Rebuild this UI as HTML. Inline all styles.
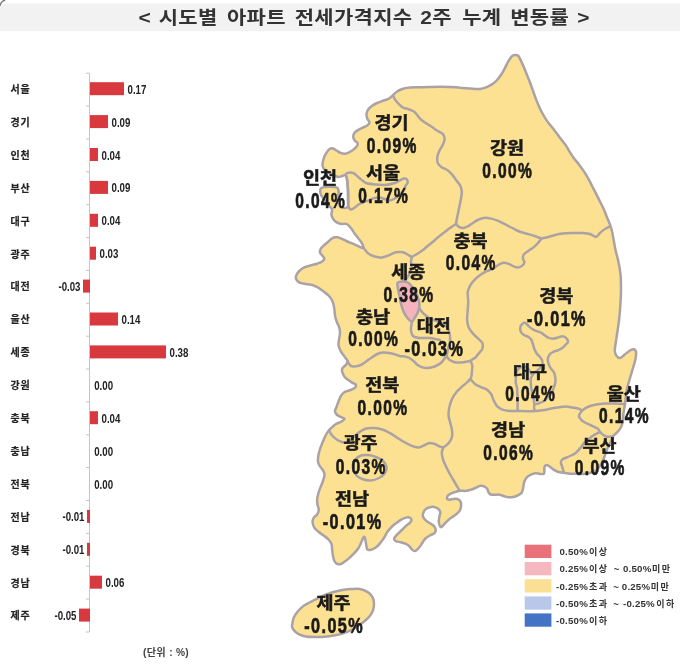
<!DOCTYPE html>
<html lang="ko"><head><meta charset="utf-8"><title>시도별 아파트 전세가격지수 2주 누계 변동률</title>
<style>html,body{margin:0;padding:0;background:#fff}svg{display:block}</style></head>
<body>
<svg width="680" height="672" viewBox="0 0 680 672">
<rect x="0" y="0" width="680" height="672" fill="#fff"/>
<path d="M-1,31.2 V9 Q0,3.5 6,3.5 H682 V31.2 Z" fill="#f2f2f2"/>
<path d="M0,5.8 Q0.8,1.2 5.2,0" fill="none" stroke="#777" stroke-width="1.4"/>
<text transform="scale(1.14,1)" y="24.4" font-family="'Liberation Sans','Noto Sans CJK KR',sans-serif" font-weight="bold" font-size="18.4" letter-spacing="0.3" fill="#333"><tspan x="121.58">&lt;</tspan> <tspan x="139.21">시도별</tspan> <tspan x="199.04">아파트</tspan> <tspan x="258.51">전세가격지수</tspan> <tspan x="368.60">2주</tspan> <tspan x="405.44">누계</tspan> <tspan x="447.54">변동률</tspan> <tspan x="506.32">&gt;</tspan></text>
<g stroke="#c4c4c4" stroke-width="1" fill="none">
<line x1="89.5" y1="73.2" x2="89.5" y2="632.0"/>
<line x1="86.0" y1="73.2" x2="89.5" y2="73.2"/>
<line x1="86.0" y1="106.1" x2="89.5" y2="106.1"/>
<line x1="86.0" y1="138.9" x2="89.5" y2="138.9"/>
<line x1="86.0" y1="171.8" x2="89.5" y2="171.8"/>
<line x1="86.0" y1="204.7" x2="89.5" y2="204.7"/>
<line x1="86.0" y1="237.6" x2="89.5" y2="237.6"/>
<line x1="86.0" y1="270.4" x2="89.5" y2="270.4"/>
<line x1="86.0" y1="303.3" x2="89.5" y2="303.3"/>
<line x1="86.0" y1="336.2" x2="89.5" y2="336.2"/>
<line x1="86.0" y1="369.0" x2="89.5" y2="369.0"/>
<line x1="86.0" y1="401.9" x2="89.5" y2="401.9"/>
<line x1="86.0" y1="434.8" x2="89.5" y2="434.8"/>
<line x1="86.0" y1="467.6" x2="89.5" y2="467.6"/>
<line x1="86.0" y1="500.5" x2="89.5" y2="500.5"/>
<line x1="86.0" y1="533.4" x2="89.5" y2="533.4"/>
<line x1="86.0" y1="566.2" x2="89.5" y2="566.2"/>
<line x1="86.0" y1="599.1" x2="89.5" y2="599.1"/>
<line x1="86.0" y1="632.0" x2="89.5" y2="632.0"/>
</g>
<rect x="90.0" y="82.2" width="34.0" height="13" fill="#d8393e"/>
<text x="10.5" y="93.0" font-family="'Liberation Sans','Noto Sans CJK KR',sans-serif" font-weight="bold" font-size="10" fill="#222" stroke="#222" stroke-width="0.2" letter-spacing="0.7">서울</text>
<text transform="translate(127.5,93.7) scale(0.77,1)" font-family="'Liberation Sans',sans-serif" font-weight="bold" font-size="12.6" fill="#222">0.17</text>
<rect x="90.0" y="115.1" width="18.0" height="13" fill="#d8393e"/>
<text x="10.5" y="125.9" font-family="'Liberation Sans','Noto Sans CJK KR',sans-serif" font-weight="bold" font-size="10" fill="#222" stroke="#222" stroke-width="0.2" letter-spacing="0.7">경기</text>
<text transform="translate(111.5,126.6) scale(0.77,1)" font-family="'Liberation Sans',sans-serif" font-weight="bold" font-size="12.6" fill="#222">0.09</text>
<rect x="90.0" y="148.0" width="8.0" height="13" fill="#d8393e"/>
<text x="10.5" y="158.8" font-family="'Liberation Sans','Noto Sans CJK KR',sans-serif" font-weight="bold" font-size="10" fill="#222" stroke="#222" stroke-width="0.2" letter-spacing="0.7">인천</text>
<text transform="translate(101.5,159.5) scale(0.77,1)" font-family="'Liberation Sans',sans-serif" font-weight="bold" font-size="12.6" fill="#222">0.04</text>
<rect x="90.0" y="180.9" width="18.0" height="13" fill="#d8393e"/>
<text x="10.5" y="191.7" font-family="'Liberation Sans','Noto Sans CJK KR',sans-serif" font-weight="bold" font-size="10" fill="#222" stroke="#222" stroke-width="0.2" letter-spacing="0.7">부산</text>
<text transform="translate(111.5,192.4) scale(0.77,1)" font-family="'Liberation Sans',sans-serif" font-weight="bold" font-size="12.6" fill="#222">0.09</text>
<rect x="90.0" y="213.8" width="8.0" height="13" fill="#d8393e"/>
<text x="10.5" y="224.6" font-family="'Liberation Sans','Noto Sans CJK KR',sans-serif" font-weight="bold" font-size="10" fill="#222" stroke="#222" stroke-width="0.2" letter-spacing="0.7">대구</text>
<text transform="translate(101.5,225.3) scale(0.77,1)" font-family="'Liberation Sans',sans-serif" font-weight="bold" font-size="12.6" fill="#222">0.04</text>
<rect x="90.0" y="246.7" width="6.0" height="13" fill="#d8393e"/>
<text x="10.5" y="257.5" font-family="'Liberation Sans','Noto Sans CJK KR',sans-serif" font-weight="bold" font-size="10" fill="#222" stroke="#222" stroke-width="0.2" letter-spacing="0.7">광주</text>
<text transform="translate(99.5,258.2) scale(0.77,1)" font-family="'Liberation Sans',sans-serif" font-weight="bold" font-size="12.6" fill="#222">0.03</text>
<rect x="83.0" y="279.6" width="7.0" height="13" fill="#d8393e"/>
<text x="10.5" y="290.4" font-family="'Liberation Sans','Noto Sans CJK KR',sans-serif" font-weight="bold" font-size="10" fill="#222" stroke="#222" stroke-width="0.2" letter-spacing="0.7">대전</text>
<text transform="translate(80.5,291.1) scale(0.77,1)" text-anchor="end" font-family="'Liberation Sans',sans-serif" font-weight="bold" font-size="12.6" fill="#222">-0.03</text>
<rect x="90.0" y="312.5" width="28.0" height="13" fill="#d8393e"/>
<text x="10.5" y="323.3" font-family="'Liberation Sans','Noto Sans CJK KR',sans-serif" font-weight="bold" font-size="10" fill="#222" stroke="#222" stroke-width="0.2" letter-spacing="0.7">울산</text>
<text transform="translate(121.5,324.0) scale(0.77,1)" font-family="'Liberation Sans',sans-serif" font-weight="bold" font-size="12.6" fill="#222">0.14</text>
<rect x="90.0" y="345.4" width="76.0" height="13" fill="#d8393e"/>
<text x="10.5" y="356.2" font-family="'Liberation Sans','Noto Sans CJK KR',sans-serif" font-weight="bold" font-size="10" fill="#222" stroke="#222" stroke-width="0.2" letter-spacing="0.7">세종</text>
<text transform="translate(169.5,356.9) scale(0.77,1)" font-family="'Liberation Sans',sans-serif" font-weight="bold" font-size="12.6" fill="#222">0.38</text>
<text x="10.5" y="389.1" font-family="'Liberation Sans','Noto Sans CJK KR',sans-serif" font-weight="bold" font-size="10" fill="#222" stroke="#222" stroke-width="0.2" letter-spacing="0.7">강원</text>
<text transform="translate(94.2,389.8) scale(0.77,1)" font-family="'Liberation Sans',sans-serif" font-weight="bold" font-size="12.6" fill="#222">0.00</text>
<rect x="90.0" y="411.2" width="8.0" height="13" fill="#d8393e"/>
<text x="10.5" y="422.0" font-family="'Liberation Sans','Noto Sans CJK KR',sans-serif" font-weight="bold" font-size="10" fill="#222" stroke="#222" stroke-width="0.2" letter-spacing="0.7">충북</text>
<text transform="translate(101.5,422.7) scale(0.77,1)" font-family="'Liberation Sans',sans-serif" font-weight="bold" font-size="12.6" fill="#222">0.04</text>
<text x="10.5" y="454.9" font-family="'Liberation Sans','Noto Sans CJK KR',sans-serif" font-weight="bold" font-size="10" fill="#222" stroke="#222" stroke-width="0.2" letter-spacing="0.7">충남</text>
<text transform="translate(94.2,455.6) scale(0.77,1)" font-family="'Liberation Sans',sans-serif" font-weight="bold" font-size="12.6" fill="#222">0.00</text>
<text x="10.5" y="487.8" font-family="'Liberation Sans','Noto Sans CJK KR',sans-serif" font-weight="bold" font-size="10" fill="#222" stroke="#222" stroke-width="0.2" letter-spacing="0.7">전북</text>
<text transform="translate(94.2,488.5) scale(0.77,1)" font-family="'Liberation Sans',sans-serif" font-weight="bold" font-size="12.6" fill="#222">0.00</text>
<rect x="87.0" y="509.9" width="3.0" height="13" fill="#d8393e"/>
<text x="10.5" y="520.7" font-family="'Liberation Sans','Noto Sans CJK KR',sans-serif" font-weight="bold" font-size="10" fill="#222" stroke="#222" stroke-width="0.2" letter-spacing="0.7">전남</text>
<text transform="translate(84.5,521.4) scale(0.77,1)" text-anchor="end" font-family="'Liberation Sans',sans-serif" font-weight="bold" font-size="12.6" fill="#222">-0.01</text>
<rect x="87.0" y="542.8" width="3.0" height="13" fill="#d8393e"/>
<text x="10.5" y="553.6" font-family="'Liberation Sans','Noto Sans CJK KR',sans-serif" font-weight="bold" font-size="10" fill="#222" stroke="#222" stroke-width="0.2" letter-spacing="0.7">경북</text>
<text transform="translate(84.5,554.3) scale(0.77,1)" text-anchor="end" font-family="'Liberation Sans',sans-serif" font-weight="bold" font-size="12.6" fill="#222">-0.01</text>
<rect x="90.0" y="575.7" width="12.0" height="13" fill="#d8393e"/>
<text x="10.5" y="586.5" font-family="'Liberation Sans','Noto Sans CJK KR',sans-serif" font-weight="bold" font-size="10" fill="#222" stroke="#222" stroke-width="0.2" letter-spacing="0.7">경남</text>
<text transform="translate(105.5,587.2) scale(0.77,1)" font-family="'Liberation Sans',sans-serif" font-weight="bold" font-size="12.6" fill="#222">0.06</text>
<rect x="79.0" y="608.6" width="11.0" height="13" fill="#d8393e"/>
<text x="10.5" y="619.4" font-family="'Liberation Sans','Noto Sans CJK KR',sans-serif" font-weight="bold" font-size="10" fill="#222" stroke="#222" stroke-width="0.2" letter-spacing="0.7">제주</text>
<text transform="translate(76.5,620.1) scale(0.77,1)" text-anchor="end" font-family="'Liberation Sans',sans-serif" font-weight="bold" font-size="12.6" fill="#222">-0.05</text>
<text x="166" y="656.2" text-anchor="middle" font-family="'Liberation Sans','Noto Sans CJK KR',sans-serif" font-weight="bold" font-size="10.2" fill="#444" letter-spacing="0.3">(단위 : %)</text>
<g stroke="#aaa2a5" stroke-width="2.5" stroke-linejoin="round" stroke-linecap="round">
<path d="M393.0,95.3C394.2,94.2 394.8,93.0 396.4,92.0C397.9,91.0 400.1,89.8 402.3,89.0C404.5,88.2 407.1,87.8 409.8,87.5C412.5,87.2 415.5,87.3 418.7,87.2C421.9,87.1 425.5,87.2 429.0,87.1C432.5,87.0 436.0,86.8 439.5,86.8C443.0,86.8 446.5,86.9 450.0,87.1C453.5,87.3 456.9,87.5 460.4,87.8C463.9,88.0 467.5,88.4 470.8,88.6C474.1,88.8 477.5,89.1 480.0,88.9C482.5,88.7 484.0,88.2 486.0,87.4C488.0,86.7 490.0,85.6 491.9,84.4C493.8,83.2 495.5,81.7 497.1,80.0C498.7,78.3 500.2,76.1 501.6,74.0C503.0,71.9 504.2,69.4 505.3,67.3C506.4,65.2 507.2,63.2 508.3,61.4C509.4,59.6 510.7,57.5 511.8,56.4C512.9,55.3 513.9,55.1 515.0,55.0C516.1,54.9 517.2,54.9 518.2,55.8C519.2,56.7 520.0,58.7 520.9,60.6C521.8,62.5 522.9,64.9 523.9,67.3C524.9,69.7 525.9,72.3 526.9,74.8C527.9,77.3 528.9,79.6 529.9,82.2C530.9,84.8 531.8,87.7 532.8,90.4C533.8,93.1 534.8,96.0 535.8,98.6C536.8,101.2 537.7,103.5 538.8,106.0C539.9,108.5 541.1,111.0 542.5,113.5C543.9,116.0 545.4,118.6 547.0,120.9C548.6,123.2 550.5,125.4 552.2,127.6C553.9,129.8 555.8,132.2 557.4,134.3C559.0,136.4 560.4,138.4 561.8,140.2C563.2,142.0 564.7,143.7 565.6,145.0C566.5,146.3 566.1,145.9 567.4,148.0C568.7,150.1 571.4,154.6 573.4,157.4C575.4,160.2 577.4,162.4 579.3,164.9C581.2,167.4 583.0,169.8 584.6,172.3C586.2,174.8 587.6,177.3 589.0,179.8C590.4,182.3 591.5,184.7 592.7,187.2C594.0,189.7 595.2,192.1 596.5,194.6C597.8,197.1 599.0,199.5 600.2,202.0C601.4,204.5 602.8,207.0 603.9,209.5C605.0,212.0 605.9,214.5 606.9,217.0C607.9,219.5 609.0,221.9 609.9,224.4C610.8,226.9 611.5,229.1 612.1,231.8C612.8,234.5 613.2,237.8 613.8,240.8C614.4,243.8 614.7,246.3 615.5,250.0C616.3,253.7 617.9,258.8 618.7,263.0C619.6,267.2 620.2,270.9 620.6,275.5C621.0,280.1 621.0,285.5 621.0,290.5C621.0,295.5 620.6,300.5 620.3,305.5C620.0,310.5 619.5,315.9 619.0,320.5C618.5,325.1 617.8,329.2 617.2,333.0C616.7,336.8 616.1,340.1 615.7,343.0C615.3,345.9 614.7,348.4 614.8,350.5C614.9,352.6 615.4,354.2 616.3,355.5C617.2,356.8 618.5,358.2 620.0,358.0C621.5,357.8 623.3,355.6 625.0,354.3C626.7,353.1 628.5,351.3 630.0,350.5C631.5,349.7 633.0,349.1 634.0,349.3C635.0,349.6 635.8,350.3 636.0,352.0C636.2,353.7 635.9,357.0 635.4,359.5C634.9,362.0 634.1,364.2 633.3,367.0C632.5,369.8 631.5,373.0 630.6,376.0C629.7,379.0 628.7,382.3 628.0,385.0C627.3,387.7 626.9,388.8 626.4,392.0C625.9,395.2 625.5,400.5 625.0,404.0C624.5,407.5 623.9,410.0 623.5,413.0C623.1,416.0 623.2,419.5 622.7,422.0C622.2,424.5 621.5,426.2 620.5,428.0C619.5,429.8 618.0,431.3 616.8,432.6C615.6,433.9 614.3,434.4 613.3,435.9C612.3,437.4 611.7,439.6 610.8,441.5C609.9,443.4 608.7,445.5 607.8,447.5C606.9,449.5 606.3,451.5 605.6,453.5C604.9,455.5 604.3,457.4 603.4,459.4C602.5,461.4 601.5,463.7 600.4,465.4C599.3,467.1 598.3,468.6 596.7,469.8C595.1,471.0 592.9,472.1 590.7,472.8C588.5,473.5 585.8,473.8 583.3,474.0C580.8,474.2 578.0,473.8 575.8,473.8C573.6,473.8 571.7,473.9 569.9,473.8C568.1,473.7 566.6,473.2 565.2,473.0C563.8,472.8 562.7,472.8 561.5,472.6C560.3,472.4 559.2,472.2 557.8,471.7C556.4,471.2 554.7,470.3 553.3,469.4C551.9,468.5 550.7,467.2 549.6,466.5C548.5,465.8 547.5,464.9 546.6,465.0C545.7,465.1 544.8,466.2 544.4,467.2C544.0,468.2 544.5,469.8 544.4,470.9C544.3,472.0 544.5,473.4 543.7,473.9C543.0,474.4 541.3,474.0 539.9,473.9C538.5,473.8 537.0,473.1 535.5,473.2C534.0,473.3 532.4,474.0 531.0,474.6C529.6,475.2 528.3,475.9 527.3,476.9C526.3,477.9 525.4,479.2 524.8,480.6C524.2,482.0 523.9,483.5 523.6,485.0C523.3,486.5 523.2,488.1 522.8,489.5C522.4,490.9 522.2,492.2 521.3,493.2C520.4,494.2 519.0,494.9 517.6,495.5C516.2,496.1 514.7,496.7 513.2,497.0C511.7,497.3 510.2,497.4 508.7,497.3C507.2,497.2 505.7,496.6 504.2,496.2C502.7,495.8 501.3,494.9 499.8,494.7C498.3,494.4 496.8,494.7 495.3,494.7C493.8,494.7 491.9,495.1 490.8,494.7C489.7,494.3 489.2,493.5 488.6,492.5C488.0,491.5 487.9,489.8 487.1,488.8C486.4,487.8 485.2,486.8 484.1,486.3C483.0,485.8 481.6,485.6 480.4,485.8C479.2,486.0 478.0,486.7 476.7,487.3C475.4,487.9 474.0,488.7 472.3,489.3C470.6,489.9 468.3,490.6 466.3,490.8C464.3,491.1 462.4,490.6 460.4,490.8C458.4,491.1 456.3,491.7 454.4,492.3C452.5,492.9 450.4,493.7 449.2,494.6C448.0,495.5 447.1,496.6 447.0,497.5C446.9,498.4 447.5,499.6 448.5,499.8C449.5,500.1 451.4,499.1 452.9,499.0C454.4,498.9 456.1,498.6 457.4,499.0C458.6,499.4 459.8,500.2 460.4,501.3C461.0,502.4 461.2,504.1 461.1,505.7C461.0,507.3 460.5,509.4 459.6,510.9C458.7,512.4 457.3,513.5 455.9,514.6C454.5,515.7 452.8,516.6 451.4,517.6C450.0,518.6 448.9,519.5 447.7,520.6C446.5,521.7 445.1,523.2 444.0,524.3C442.9,525.4 441.8,527.2 441.0,527.3C440.2,527.4 439.9,526.1 439.5,525.1C439.1,524.1 438.8,522.8 438.8,521.3C438.8,519.8 439.2,517.7 439.5,516.1C439.8,514.5 440.6,512.9 440.3,511.7C440.1,510.5 439.0,509.5 438.0,508.7C437.0,507.9 435.7,507.1 434.3,506.9C432.9,506.6 431.4,506.8 429.9,507.2C428.4,507.6 426.5,508.4 425.4,509.4C424.3,510.4 423.6,512.0 423.2,513.2C422.8,514.5 422.7,515.7 423.2,516.9C423.7,518.1 424.9,519.5 426.1,520.6C427.3,521.7 429.2,522.6 430.6,523.6C432.0,524.6 433.4,525.4 434.3,526.5C435.2,527.6 435.8,529.2 435.8,530.3C435.8,531.4 435.3,532.3 434.3,533.2C433.3,534.1 431.4,534.6 429.9,535.5C428.4,536.4 426.5,537.5 425.4,538.5C424.3,539.5 423.9,540.3 423.2,541.4C422.4,542.5 421.8,543.9 420.9,545.1C420.0,546.4 418.9,547.9 417.9,548.9C416.9,549.9 416.0,551.0 415.0,551.1C414.0,551.2 413.0,550.5 412.0,549.6C411.0,548.7 410.1,546.9 409.0,545.9C407.9,544.9 406.7,544.3 405.3,543.7C403.9,543.1 402.3,542.6 400.8,542.2C399.3,541.8 397.5,541.9 396.4,541.4C395.3,540.9 394.2,540.1 394.1,539.2C394.0,538.3 394.9,537.2 395.6,536.2C396.4,535.2 397.5,534.3 398.6,533.2C399.7,532.1 401.1,530.7 402.3,529.5C403.5,528.3 404.8,526.9 406.0,525.8C407.2,524.7 408.9,523.8 409.8,522.8C410.7,521.8 411.5,520.8 411.5,519.9C411.5,519.0 410.7,518.0 409.8,517.6C408.9,517.2 407.5,517.2 406.0,517.6C404.5,518.0 402.5,518.9 400.8,519.9C399.1,520.9 397.2,522.4 395.6,523.6C394.0,524.8 392.6,525.9 391.2,527.3C389.8,528.7 388.5,530.2 387.4,531.8C386.3,533.4 385.5,535.4 384.5,537.0C383.5,538.6 382.4,540.1 381.5,541.4C380.6,542.6 380.0,543.5 379.0,544.5C378.0,545.5 376.9,546.8 375.4,547.7C373.9,548.6 371.5,549.8 370.1,550.0C368.7,550.2 367.9,550.2 367.2,549.2C366.5,548.2 366.5,545.9 366.1,544.0C365.7,542.1 365.4,539.1 365.0,538.0C364.6,536.9 364.1,536.5 363.5,537.3C362.9,538.0 362.1,540.6 361.2,542.5C360.3,544.4 359.3,546.8 358.2,548.5C357.1,550.2 355.9,551.4 354.5,552.9C353.1,554.4 351.5,556.0 350.0,557.4C348.5,558.8 347.1,559.9 345.6,561.0C344.1,562.1 342.5,563.5 341.1,564.0C339.7,564.5 338.5,564.5 337.4,564.0C336.3,563.5 335.1,562.4 334.4,561.0C333.7,559.6 333.4,557.7 333.0,555.9C332.6,554.1 332.4,552.0 332.2,550.0C331.9,548.0 332.1,545.8 331.5,544.0C330.9,542.2 329.8,540.9 328.5,539.5C327.2,538.1 325.6,537.0 324.0,535.8C322.4,534.5 320.4,533.4 318.8,532.0C317.2,530.6 315.3,529.2 314.3,527.6C313.3,526.0 312.7,524.0 312.6,522.4C312.5,520.8 312.8,519.4 313.6,518.0C314.4,516.6 316.4,515.6 317.3,514.2C318.2,512.8 318.8,511.5 318.8,509.8C318.8,508.1 317.6,505.8 317.3,503.8C317.1,501.8 317.1,499.9 317.3,497.9C317.6,495.9 318.2,493.9 318.8,491.9C319.4,489.9 320.2,488.0 321.0,486.0C321.8,484.0 322.7,481.9 323.3,480.0C323.9,478.1 324.6,476.0 324.5,474.3C324.4,472.6 323.5,471.3 322.7,469.9C321.9,468.5 320.6,467.4 319.8,466.0C319.0,464.6 318.2,463.4 318.0,461.7C317.8,460.0 318.0,457.7 318.3,455.7C318.6,453.7 319.2,451.8 319.8,449.8C320.4,447.8 321.2,445.8 322.0,443.8C322.8,441.8 323.6,439.8 324.5,437.9C325.4,436.0 326.1,434.2 327.2,432.6C328.3,431.0 329.5,429.6 331.0,428.2C332.5,426.8 334.3,425.1 336.0,424.0C337.7,422.9 339.6,422.7 341.0,421.8C342.4,420.9 344.5,419.6 344.6,418.9C344.7,418.2 342.9,418.0 341.7,417.4C340.5,416.8 338.3,416.0 337.2,415.0C336.1,414.0 335.1,412.7 335.0,411.4C334.9,410.1 335.9,408.7 336.5,407.0C337.1,405.3 337.9,402.9 338.7,401.0C339.4,399.1 340.0,397.3 341.0,395.8C342.0,394.3 343.0,393.0 344.6,392.0C346.2,391.0 348.9,390.7 350.6,390.0C352.3,389.3 354.1,388.5 355.0,387.6C355.9,386.7 356.2,385.4 355.8,384.6C355.4,383.8 354.0,383.8 352.8,383.0C351.6,382.2 349.8,381.1 348.4,380.0C347.0,378.9 345.5,378.0 344.5,376.7C343.5,375.4 342.7,373.6 342.3,372.2C341.9,370.8 341.7,369.7 342.3,368.5C342.9,367.3 345.1,366.1 346.0,364.8C346.9,363.6 347.8,362.4 347.5,361.0C347.2,359.6 345.6,358.2 344.5,356.6C343.4,355.0 341.8,353.3 340.8,351.4C339.8,349.5 338.9,347.4 338.6,345.4C338.3,343.4 338.8,341.5 339.0,339.5C339.2,337.5 339.9,335.5 340.0,333.5C340.1,331.5 339.8,329.4 339.3,327.6C338.9,325.9 338.0,324.7 337.3,323.0C336.6,321.3 335.8,319.3 335.3,317.2C334.8,315.1 334.8,312.6 334.5,310.5C334.2,308.4 333.9,306.2 333.5,304.5C333.1,302.8 332.7,301.5 331.9,300.0C331.1,298.5 329.8,296.9 328.5,295.5C327.2,294.1 325.6,293.0 324.0,291.8C322.4,290.6 320.7,289.2 319.2,288.2C317.7,287.2 316.3,286.6 314.8,286.0C313.3,285.4 312.1,284.9 310.3,284.5C308.6,284.1 306.2,284.2 304.3,283.8C302.4,283.4 300.5,283.1 299.1,282.3C297.8,281.6 296.7,280.4 296.2,279.3C295.7,278.2 295.7,277.0 296.2,275.6C296.7,274.2 297.8,272.5 299.1,271.1C300.5,269.7 302.4,268.3 304.3,267.4C306.2,266.5 308.2,266.1 310.3,265.5C312.4,264.9 315.0,264.4 317.0,263.7C319.0,263.0 321.0,262.4 322.2,261.5C323.4,260.6 324.4,259.5 324.4,258.5C324.4,257.5 322.9,256.5 322.2,255.5C321.5,254.5 320.2,253.6 320.0,252.5C319.8,251.4 320.0,250.1 320.7,248.8C321.4,247.6 323.1,246.2 324.4,245.0C325.7,243.8 327.3,242.5 328.5,241.5C329.7,240.5 330.5,239.5 331.5,238.8C332.5,238.1 333.5,237.6 334.5,237.3C335.5,237.1 336.2,237.1 337.4,237.3C338.6,237.6 340.4,238.2 341.9,238.8C343.4,239.4 344.9,240.3 346.4,241.0C347.9,241.7 349.3,242.3 350.8,242.9C352.3,243.5 353.8,244.1 355.3,244.8C356.8,245.5 358.4,246.5 359.8,247.0C361.2,247.5 363.0,248.3 363.5,247.9C364.0,247.5 363.2,246.0 362.7,244.8C362.2,243.7 361.4,242.2 360.5,241.0C359.6,239.8 358.5,238.5 357.5,237.3C356.5,236.1 355.5,234.8 354.6,233.6C353.7,232.4 353.2,231.1 352.3,229.9C351.4,228.7 350.3,227.2 349.3,226.2C348.3,225.2 347.8,224.3 346.4,223.9C345.0,223.5 342.8,224.2 341.2,223.9C339.6,223.7 338.1,223.3 336.7,222.4C335.3,221.5 333.9,220.0 333.0,218.7C332.1,217.4 331.6,216.0 331.4,214.5C331.2,213.0 332.5,211.1 332.0,209.5C331.5,207.9 329.8,206.6 328.5,205.0C327.2,203.4 325.7,201.6 324.5,200.0C323.3,198.4 322.0,196.8 321.3,195.5C320.6,194.2 320.4,193.2 320.3,192.0C320.2,190.8 320.2,189.4 320.8,188.6C321.4,187.8 322.4,187.4 323.8,187.1C325.2,186.8 327.3,186.7 329.0,186.7C330.7,186.7 332.6,186.8 334.0,187.0C335.4,187.2 336.7,187.3 337.5,188.0C338.3,188.7 338.4,189.7 338.6,191.0C338.8,192.3 338.5,194.2 338.5,196.0C338.5,197.8 338.2,200.3 338.5,202.0C338.8,203.7 339.1,205.3 340.0,206.3C340.9,207.3 342.8,207.8 344.0,208.0C345.2,208.2 346.6,207.8 347.3,207.3C348.0,206.8 348.2,206.9 348.3,205.0C348.4,203.1 348.2,198.5 348.1,196.0C348.1,193.5 348.1,191.9 348.0,190.0C347.9,188.1 347.7,186.3 347.5,184.4C347.3,182.5 347.3,180.0 346.9,178.5C346.5,177.0 346.1,175.6 345.2,175.2C344.3,174.8 342.6,176.0 341.4,176.3C340.2,176.6 339.1,177.2 337.9,177.0C336.7,176.8 335.9,175.9 334.4,175.2C332.9,174.5 330.6,173.5 329.0,172.6C327.4,171.7 325.6,170.6 324.5,169.5C323.4,168.4 322.9,167.2 322.6,166.0C322.3,164.8 322.6,163.4 322.8,162.0C323.1,160.6 323.5,158.9 324.1,157.4C324.7,155.9 325.5,154.3 326.4,152.9C327.3,151.5 328.2,149.9 329.3,149.2C330.4,148.5 331.8,148.2 333.0,148.5C334.2,148.8 335.6,150.0 336.8,150.7C338.1,151.4 339.1,152.4 340.5,152.9C341.9,153.4 343.5,153.8 345.0,153.7C346.5,153.6 347.9,152.9 349.4,152.2C350.9,151.4 352.6,150.2 353.9,149.2C355.1,148.2 356.3,147.2 356.9,146.2C357.5,145.2 358.0,144.2 357.6,143.2C357.2,142.2 355.3,141.4 354.6,140.3C353.9,139.2 353.2,137.8 353.2,136.5C353.2,135.2 353.7,133.9 354.6,132.8C355.5,131.7 357.0,130.8 358.4,129.9C359.8,129.0 361.3,128.3 362.8,127.6C364.3,126.8 366.2,126.3 367.3,125.4C368.4,124.5 369.5,123.5 369.5,122.4C369.5,121.3 367.8,120.1 367.3,118.7C366.8,117.3 366.4,115.7 366.5,114.2C366.6,112.7 367.1,111.2 368.0,109.8C368.9,108.4 370.3,107.1 371.8,106.0C373.3,104.9 375.1,103.9 377.0,103.0C378.9,102.1 381.0,101.5 383.0,100.8C385.0,100.1 387.2,99.5 388.9,98.6C390.6,97.7 391.8,96.4 393.0,95.3Z" fill="#fde192"/>
<path d="M292.4,623.5C292.7,622.0 292.9,619.6 293.8,617.6C294.7,615.6 296.0,613.6 297.5,611.8C299.0,610.0 300.8,608.1 302.6,606.6C304.4,605.1 306.5,604.1 308.5,603.0C310.5,601.9 312.2,601.1 314.4,600.0C316.6,598.9 319.4,597.4 321.8,596.3C324.2,595.2 326.7,594.2 329.1,593.4C331.6,592.5 334.1,591.8 336.5,591.2C338.9,590.6 341.4,590.1 343.8,589.7C346.2,589.3 348.5,589.1 351.2,589.0C353.9,588.9 357.3,588.5 360.0,589.0C362.7,589.5 365.3,590.6 367.4,591.9C369.5,593.2 371.4,595.0 372.5,597.0C373.6,599.0 373.9,601.5 374.0,603.7C374.1,605.9 373.7,608.2 373.0,610.3C372.3,612.4 371.0,614.4 369.6,616.2C368.2,618.0 366.2,619.7 364.4,621.3C362.5,622.9 360.7,624.2 358.5,625.7C356.3,627.2 353.6,628.9 351.2,630.1C348.8,631.3 346.5,632.2 343.8,633.1C341.1,634.0 338.2,634.7 335.0,635.3C331.8,635.9 328.1,636.5 324.7,636.8C321.3,637.1 317.6,637.0 314.4,637.0C311.2,637.0 308.3,637.0 305.6,636.5C302.9,636.0 300.2,634.9 298.2,633.8C296.2,632.7 294.8,631.3 293.8,630.1C292.8,628.9 292.2,627.6 292.0,626.5C291.8,625.4 292.1,625.0 292.4,623.5Z" fill="#fde192"/>
</g>
<g stroke="#aaa2a5" stroke-width="2.5" fill="none" stroke-linejoin="round" stroke-linecap="round">
<path d="M393.0,95.3C393.3,96.0 394.0,98.0 394.9,99.4C395.8,100.8 397.2,102.5 398.6,103.9C400.0,105.3 401.4,106.7 403.0,107.6C404.6,108.5 406.6,108.5 408.3,109.1C410.1,109.7 412.0,110.3 413.5,111.3C415.0,112.3 416.0,113.6 417.2,115.0C418.4,116.4 419.4,118.1 420.9,119.5C422.4,120.9 424.2,122.0 426.1,123.2C428.0,124.5 430.4,125.8 432.1,127.0C433.8,128.2 434.8,129.2 436.5,130.3C438.2,131.4 441.0,132.4 442.4,133.7C443.8,135.0 444.5,136.5 444.6,138.2C444.7,139.9 444.1,142.0 443.2,144.1C442.3,146.2 440.4,148.6 439.4,150.8C438.4,153.0 437.4,155.4 437.2,157.5C437.0,159.6 437.2,161.9 438.0,163.5C438.8,165.1 440.1,166.1 441.7,167.2C443.3,168.3 445.9,169.0 447.6,170.2C449.3,171.4 450.6,172.9 452.1,174.6C453.6,176.3 455.1,178.7 456.5,180.6C457.9,182.5 459.4,183.9 460.3,185.8C461.2,187.7 461.7,189.7 461.8,191.8C461.9,193.9 461.4,196.2 461.0,198.5C460.6,200.8 460.0,203.4 459.5,205.9C459.0,208.4 458.5,211.0 458.0,213.3C457.5,215.6 457.0,217.7 456.7,219.5C456.4,221.3 456.1,223.2 456.0,224.0"/>
<path d="M456.0,224.0C456.6,224.5 458.1,226.5 459.4,227.2C460.6,227.9 462.0,228.2 463.5,228.0C465.0,227.8 466.6,227.0 468.2,226.2C469.8,225.4 471.4,224.0 473.0,223.0C474.6,222.0 475.8,220.8 477.6,220.0C479.4,219.2 481.7,218.1 484.0,217.9C486.3,217.7 488.8,218.1 491.2,218.6C493.6,219.1 495.8,219.9 498.2,220.9C500.6,221.9 503.0,223.2 505.3,224.4C507.6,225.6 509.9,226.8 512.3,228.0C514.6,229.2 516.8,230.5 519.4,231.5C522.0,232.5 525.6,233.3 528.2,234.1C530.9,234.9 533.1,235.5 535.3,236.2C537.5,236.9 540.5,238.1 541.5,238.5"/>
<path d="M541.5,238.5C542.7,238.2 546.2,237.6 548.5,237.0C550.8,236.4 552.7,235.6 555.0,235.0C557.3,234.4 559.6,233.8 562.5,233.5C565.4,233.2 569.2,233.1 572.5,233.0C575.8,232.9 579.6,232.8 582.5,233.0C585.4,233.2 587.8,233.4 590.0,234.0C592.2,234.6 594.3,237.0 596.0,236.8C597.7,236.6 598.5,234.3 600.0,233.0C601.5,231.7 603.3,230.1 605.0,229.0C606.7,227.9 609.4,226.7 610.3,226.2"/>
<path d="M541.5,238.5C540.9,239.2 539.3,241.5 538.0,243.0C536.7,244.5 535.1,246.1 533.5,247.4C531.9,248.7 529.8,249.7 528.2,250.9C526.6,252.1 524.7,253.1 523.8,254.4C522.9,255.7 522.9,257.5 523.0,258.8C523.1,260.1 524.6,261.2 524.4,262.4C524.2,263.6 523.1,265.0 522.0,265.9C520.9,266.8 519.1,267.6 517.6,267.6C516.1,267.7 514.7,266.8 513.2,266.2C511.7,265.6 510.4,264.4 508.8,263.8C507.2,263.2 505.3,262.5 503.5,262.7C501.7,262.9 499.9,264.0 498.2,265.0C496.4,266.0 494.9,267.5 493.0,268.5C491.1,269.5 488.9,270.2 486.8,271.2C484.7,272.2 482.5,273.4 480.6,274.7C478.7,276.0 476.8,277.6 475.3,279.1C473.8,280.6 472.5,282.1 471.5,283.5C470.5,284.9 469.9,286.0 469.3,287.5C468.7,289.0 467.9,290.2 467.7,292.5C467.5,294.8 468.2,298.4 468.2,301.4C468.2,304.4 467.9,307.4 467.7,310.4C467.5,313.4 467.0,316.5 467.1,319.3C467.2,322.1 467.6,324.9 468.6,327.3C469.6,329.7 471.4,331.7 473.0,333.6C474.6,335.5 476.8,337.3 478.4,338.9C480.0,340.5 481.9,341.8 482.5,343.4C483.1,345.0 482.8,347.3 482.3,348.8C481.8,350.3 480.6,351.1 479.5,352.5C478.4,353.9 476.9,356.1 475.5,357.5C474.1,358.9 471.5,359.4 471.0,360.8C470.5,362.2 472.1,364.0 472.3,365.6C472.5,367.2 472.1,368.7 472.0,370.3C471.9,371.9 471.8,373.6 471.6,375.0C471.4,376.4 470.8,378.3 470.6,379.0"/>
<path d="M456.0,224.0C455.4,224.4 453.7,225.5 452.5,226.3C451.3,227.1 450.3,227.7 448.8,228.8C447.3,229.9 445.3,231.6 443.5,233.0C441.7,234.4 439.9,235.7 438.0,237.3C436.1,238.9 433.7,241.1 432.0,242.5C430.3,243.9 429.2,244.7 427.6,246.0C426.0,247.3 424.1,249.2 422.3,250.5C420.5,251.8 418.8,252.9 417.0,254.0C415.2,255.1 412.7,256.5 411.8,257.0"/>
<path d="M411.8,257.0C411.3,256.7 410.5,256.1 409.0,255.3C407.5,254.5 405.2,252.8 403.0,252.3C400.8,251.8 398.3,251.8 395.9,252.3C393.5,252.8 391.1,254.4 388.8,255.3C386.5,256.2 384.2,257.4 381.8,257.6C379.4,257.8 376.9,257.1 374.7,256.5C372.5,255.8 370.2,254.7 368.7,253.7C367.2,252.7 366.6,251.7 365.7,250.7C364.8,249.7 363.9,248.4 363.5,247.9"/>
<path d="M411.8,257.0C411.7,257.8 411.1,260.0 411.0,261.5C410.9,263.0 411.6,264.2 411.4,266.0C411.2,267.8 410.7,270.0 410.0,272.0C409.3,274.0 408.2,276.4 407.0,278.0C405.8,279.6 403.7,281.1 403.0,281.7"/>
<path d="M347.6,361.0C347.9,361.6 348.7,363.6 349.5,364.5C350.3,365.4 350.8,366.3 352.5,366.5C354.2,366.7 357.3,366.2 359.5,365.5C361.7,364.8 363.5,363.3 365.5,362.0C367.5,360.7 369.4,359.0 371.4,357.7C373.4,356.4 375.4,354.9 377.4,354.0C379.4,353.1 381.3,352.8 383.3,352.6C385.3,352.4 387.2,352.7 389.3,353.0C391.4,353.3 393.8,354.0 395.6,354.5C397.4,355.0 398.5,355.9 400.0,356.2C401.5,356.5 403.1,356.1 404.7,356.4C406.3,356.7 407.8,357.1 409.4,358.0C410.9,358.9 412.6,360.3 414.0,361.5C415.4,362.7 416.2,364.0 417.6,365.0C419.0,366.0 420.6,366.9 422.4,367.4C424.2,367.9 426.3,368.1 428.2,368.0C430.1,367.9 432.2,367.4 434.0,366.8C435.8,366.2 437.4,365.3 438.8,364.4C440.2,363.5 441.4,362.5 442.4,361.5C443.4,360.5 444.0,359.2 444.7,358.3C445.4,357.4 445.6,356.1 446.4,356.3C447.2,356.5 448.1,358.8 449.4,359.7C450.7,360.6 452.2,361.5 454.0,362.0C455.8,362.5 458.0,362.6 460.0,362.6C462.0,362.6 464.2,362.1 466.0,361.8C467.8,361.5 470.2,361.0 471.0,360.8"/>
<path d="M470.6,379.0C471.3,379.8 473.4,382.7 475.0,384.0C476.6,385.3 478.4,385.9 480.3,386.8C482.2,387.7 484.7,388.2 486.5,389.4C488.3,390.6 489.7,392.0 490.9,393.8C492.1,395.6 492.5,397.9 493.5,400.0C494.5,402.1 495.5,404.6 497.0,406.2C498.5,407.8 500.2,408.9 502.3,409.7C504.4,410.5 506.8,410.8 509.4,411.0C512.0,411.2 515.3,411.0 518.2,411.0C521.1,411.0 524.0,411.2 527.0,411.2C530.0,411.2 532.9,411.2 535.9,411.0C538.9,410.8 542.4,410.4 544.7,410.0C547.1,409.6 547.9,409.2 550.0,408.8C552.1,408.4 554.8,407.9 557.5,407.5C560.2,407.1 563.5,406.5 566.0,406.5C568.5,406.5 570.4,407.1 572.5,407.5C574.6,407.9 577.2,408.3 578.8,408.8C580.4,409.3 581.5,410.2 582.0,410.5"/>
<path d="M470.6,379.0C470.0,379.6 468.5,381.1 467.0,382.4C465.5,383.7 463.6,385.2 461.8,386.8C460.1,388.4 458.1,390.0 456.5,392.0C454.9,394.0 453.2,396.5 452.0,399.0C450.8,401.5 450.0,404.3 449.4,407.0C448.8,409.7 448.4,412.3 448.5,415.0C448.6,417.7 449.7,420.5 450.3,423.0C450.9,425.5 451.7,427.7 452.0,430.0C452.3,432.3 452.6,434.8 452.0,437.0C451.4,439.2 450.0,441.4 448.5,443.2C447.0,445.0 444.1,446.9 443.2,447.6"/>
<path d="M443.2,447.6C443.0,448.5 441.8,450.9 441.8,453.0C441.8,455.1 442.5,457.8 443.2,460.0C443.9,462.2 444.9,464.1 445.9,466.2C446.9,468.3 447.6,469.9 449.0,472.5C450.4,475.1 452.7,478.9 454.5,482.0C456.3,485.1 458.9,489.3 459.8,490.8"/>
<path d="M443.2,447.6C442.6,447.4 440.9,446.9 439.4,446.3C437.9,445.7 435.8,444.3 434.0,443.8C432.2,443.3 430.6,442.9 428.8,443.2C427.1,443.5 425.3,444.9 423.5,445.6C421.7,446.3 420.2,447.4 418.2,447.4C416.1,447.4 413.6,446.5 411.2,445.6C408.8,444.7 406.4,443.3 404.0,442.0C401.6,440.7 399.3,439.1 397.0,437.6C394.7,436.1 392.3,434.5 390.0,433.2C387.7,431.9 385.7,430.6 383.0,429.7C380.3,428.8 376.9,428.1 374.0,428.0C371.1,427.9 367.9,428.0 365.3,428.8C362.7,429.6 360.4,431.4 358.2,433.0C356.0,434.6 353.9,437.0 352.0,438.5C350.1,440.0 348.5,441.4 347.0,442.0C345.5,442.6 344.1,442.5 342.8,442.3C341.5,442.1 340.4,441.5 339.0,440.8C337.6,440.1 335.9,439.0 334.6,437.9C333.3,436.8 331.9,435.2 331.0,434.0C330.1,432.8 329.3,431.0 329.0,430.4"/>
<path d="M582.0,410.5C582.9,409.9 585.3,407.9 587.5,407.0C589.7,406.1 592.1,405.4 595.0,404.8C597.9,404.2 601.7,403.7 605.0,403.5C608.3,403.3 611.7,403.4 615.0,403.5C618.3,403.6 623.2,403.9 624.8,404.0"/>
<path d="M582.0,410.5C581.5,411.4 578.9,414.2 579.0,416.0C579.1,417.8 580.7,419.5 582.5,421.0C584.3,422.5 587.5,423.6 590.0,424.8C592.5,426.1 595.8,427.3 597.5,428.5C599.2,429.7 598.6,430.7 600.0,432.0C601.4,433.3 603.8,435.8 606.0,436.5C608.2,437.2 611.8,436.3 613.0,436.3"/>
<path d="M600.0,432.0C598.8,432.7 595.0,434.3 592.5,436.0C590.0,437.7 587.1,439.9 585.0,442.0C582.9,444.1 581.7,446.6 580.0,448.5C578.3,450.4 576.7,452.2 575.0,453.5C573.3,454.8 571.4,455.3 570.0,456.0C568.6,456.7 567.9,457.0 566.7,457.5C565.5,458.0 564.0,458.2 563.0,459.0C562.0,459.8 560.9,460.6 560.8,462.0C560.7,463.4 561.8,465.5 562.3,467.2C562.8,468.9 563.5,471.5 563.8,472.4"/>
<path d="M419.0,308.0C419.8,309.0 422.0,312.2 424.0,314.0C426.0,315.8 428.5,317.7 431.0,319.0C433.5,320.3 436.5,320.8 439.0,322.0C441.5,323.2 444.2,324.2 446.0,326.0C447.8,327.8 448.8,330.5 449.5,333.0C450.2,335.5 450.2,338.3 450.0,341.0C449.8,343.7 448.6,346.4 448.0,349.0C447.4,351.6 446.7,355.1 446.4,356.3"/>
<path d="M412.0,321.5C411.8,322.9 410.8,327.6 411.0,330.0C411.2,332.4 411.5,334.7 413.0,336.0C414.5,337.3 417.2,337.7 420.0,338.0C422.8,338.3 426.7,337.7 430.0,338.0C433.3,338.3 438.3,339.7 440.0,340.0"/>
<path d="M534.4,410.5C534.4,409.6 533.6,406.2 534.4,405.0C535.2,403.8 537.4,404.0 539.0,403.3C540.6,402.6 542.6,402.0 544.1,401.0C545.6,400.0 546.6,398.7 547.8,397.4C549.0,396.1 550.5,394.6 551.5,393.0C552.5,391.4 553.2,389.4 553.8,387.7C554.4,385.9 555.0,384.2 555.3,382.5C555.5,380.8 555.5,379.1 555.3,377.3C555.0,375.6 554.5,373.5 553.8,372.0C553.0,370.5 551.7,369.8 550.8,368.4C549.9,367.0 549.1,365.4 548.6,363.9C548.1,362.4 547.7,360.9 547.8,359.4C547.9,357.9 548.4,356.2 549.3,355.0C550.2,353.8 551.6,352.8 553.0,352.0C554.4,351.2 556.0,351.1 557.5,350.5C559.0,349.9 560.8,349.2 562.0,348.3C563.2,347.4 564.0,346.3 565.0,345.3C566.0,344.3 567.5,343.3 567.9,342.3C568.3,341.3 567.9,340.3 567.2,339.3C566.5,338.3 564.9,336.8 563.5,336.4C562.1,336.0 560.6,336.7 559.0,337.1C557.4,337.5 555.5,338.5 553.8,338.6C552.1,338.7 550.2,338.5 548.6,337.9C547.0,337.3 545.4,335.8 544.1,334.9C542.9,334.0 542.3,333.2 541.1,332.6C539.9,332.0 538.2,331.8 536.7,331.2C535.2,330.6 533.6,329.9 532.2,329.0C530.8,328.1 529.6,327.0 528.5,326.0C527.4,325.0 526.5,323.4 525.5,323.0C524.5,322.6 523.4,323.0 522.5,323.7C521.6,324.4 520.5,326.0 520.3,327.4C520.0,328.8 520.4,330.7 521.0,332.0C521.6,333.3 522.8,334.2 524.0,335.0C525.2,335.8 527.2,336.2 528.5,337.0C529.8,337.8 530.8,338.8 531.5,340.0C532.2,341.2 532.5,343.0 533.0,344.5C533.5,346.0 533.8,347.5 534.4,349.0C535.0,350.5 535.8,352.2 536.7,353.5C537.6,354.8 538.7,355.4 539.6,356.5C540.5,357.6 541.4,358.8 541.9,360.0C542.4,361.2 543.1,362.5 542.6,364.0C542.1,365.5 540.4,367.5 539.0,369.0C537.6,370.5 535.3,371.5 534.0,373.0C532.7,374.5 531.5,375.8 531.0,378.0C530.5,380.2 530.8,383.7 531.0,386.0C531.2,388.3 531.6,389.8 532.0,392.0C532.4,394.2 533.2,396.8 533.6,399.0C534.0,401.2 534.3,404.0 534.4,405.0"/>
<path d="M531.5,374.0C530.8,372.9 528.8,368.7 527.0,367.5C525.2,366.3 522.8,366.2 521.0,367.0C519.2,367.8 517.4,370.0 516.5,372.0C515.6,374.0 515.9,377.2 515.8,379.0C515.7,380.8 515.6,381.5 515.8,383.0C516.0,384.5 516.7,385.2 517.0,388.0C517.3,390.8 517.5,396.2 517.6,400.0C517.7,403.8 517.6,408.8 517.6,410.5"/>
<path d="M345.6,174.6C345.6,173.7 345.8,173.6 346.6,173.3C347.4,173.0 349.1,172.6 350.3,172.6C351.5,172.6 352.9,172.8 354.0,173.3C355.1,173.9 356.0,175.0 357.0,175.9C358.0,176.8 358.9,177.6 360.0,178.5C361.1,179.4 362.6,180.7 363.7,181.5C364.8,182.3 364.7,182.8 366.6,183.3C368.5,183.8 371.9,184.2 375.0,184.5C378.1,184.8 381.7,185.2 385.0,185.0C388.3,184.8 392.6,183.7 395.0,183.0C397.4,182.3 397.9,181.4 399.4,180.7C400.9,179.9 402.6,178.7 403.8,178.5C405.0,178.3 406.2,178.6 406.8,179.3C407.4,180.1 407.8,181.9 407.5,183.0C407.2,184.1 405.8,184.9 405.3,186.0C404.8,187.1 405.4,188.2 404.5,189.5C403.6,190.8 401.8,192.4 400.0,194.0C398.2,195.6 395.8,197.9 394.0,199.0C392.2,200.1 390.6,200.5 389.0,200.5C387.4,200.5 386.4,199.5 384.7,199.0C383.0,198.5 380.8,197.7 378.8,197.6C376.9,197.5 374.7,197.9 373.0,198.4C371.3,198.9 370.0,200.0 368.5,200.6C367.0,201.2 365.6,201.4 364.0,202.0C362.4,202.6 360.4,203.6 359.2,204.2C358.0,204.8 358.0,205.0 357.0,205.7C356.0,206.4 354.4,208.0 353.3,208.6C352.2,209.2 351.1,209.8 350.3,209.4C349.5,209.0 348.7,207.2 348.3,206.0C347.9,204.8 348.0,203.7 348.0,202.0C348.0,200.3 348.1,198.0 348.1,196.0C348.1,194.0 348.1,191.9 348.0,190.0C347.9,188.1 347.7,186.3 347.5,184.4C347.3,182.5 347.2,180.1 346.9,178.5C346.6,176.9 345.7,175.5 345.6,174.6Z"/>
<path d="M353.0,468.0C352.8,465.5 353.7,462.1 355.0,460.0C356.3,457.9 358.8,456.3 361.0,455.5C363.2,454.7 365.5,454.8 368.0,455.0C370.5,455.2 373.5,456.0 376.0,457.0C378.5,458.0 381.2,459.3 383.0,461.0C384.8,462.7 386.2,465.0 386.5,467.0C386.8,469.0 386.2,471.2 385.0,473.0C383.8,474.8 381.3,476.8 379.0,478.0C376.7,479.2 373.8,480.3 371.0,480.5C368.2,480.7 364.5,479.9 362.0,479.0C359.5,478.1 357.5,476.8 356.0,475.0C354.5,473.2 353.2,470.5 353.0,468.0Z"/>
<path d="M397.5,283.0C398.2,281.8 400.2,281.6 402.0,281.5C403.8,281.4 406.2,281.4 408.0,282.5C409.8,283.6 411.4,285.8 413.0,288.0C414.6,290.2 416.4,293.2 417.5,296.0C418.6,298.8 419.4,302.3 419.5,305.0C419.6,307.7 418.8,309.9 418.0,312.0C417.2,314.1 415.7,316.2 414.7,317.8C413.7,319.4 412.9,321.3 412.0,321.6C411.1,321.9 410.1,320.8 409.0,319.7C407.9,318.6 406.4,316.7 405.4,315.0C404.3,313.3 403.5,311.5 402.7,309.5C401.9,307.5 401.3,305.2 400.8,303.0C400.3,300.8 400.0,298.3 399.5,296.0C399.0,293.7 398.3,291.2 398.0,289.0C397.7,286.8 396.8,284.2 397.5,283.0Z" fill="#f5b3bb"/>
</g>
<text transform="translate(391.5,128.9) scale(1.09,1)" text-anchor="middle" font-family="'Liberation Sans','Noto Sans CJK KR',sans-serif" font-weight="bold" font-size="17" fill="#1a1a1a" stroke="#1a1a1a" stroke-width="0.5">경기</text>
<text transform="translate(392.2,152.7) scale(0.72,1)" text-anchor="middle" font-family="'Liberation Sans',sans-serif" font-weight="bold" font-size="21.6" letter-spacing="1.9" fill="#1a1a1a" stroke="#1a1a1a" stroke-width="0.7">0.09%</text>
<text transform="translate(383.0,179.4) scale(1.09,1)" text-anchor="middle" font-family="'Liberation Sans','Noto Sans CJK KR',sans-serif" font-weight="bold" font-size="17" fill="#1a1a1a" stroke="#1a1a1a" stroke-width="0.5">서울</text>
<text transform="translate(383.7,202.7) scale(0.72,1)" text-anchor="middle" font-family="'Liberation Sans',sans-serif" font-weight="bold" font-size="21.6" letter-spacing="1.9" fill="#1a1a1a" stroke="#1a1a1a" stroke-width="0.7">0.17%</text>
<text transform="translate(320.0,183.9) scale(1.09,1)" text-anchor="middle" font-family="'Liberation Sans','Noto Sans CJK KR',sans-serif" font-weight="bold" font-size="17" fill="#1a1a1a" stroke="#1a1a1a" stroke-width="0.5">인천</text>
<text transform="translate(320.7,207.7) scale(0.72,1)" text-anchor="middle" font-family="'Liberation Sans',sans-serif" font-weight="bold" font-size="21.6" letter-spacing="1.9" fill="#1a1a1a" stroke="#1a1a1a" stroke-width="0.7">0.04%</text>
<text transform="translate(507.0,153.9) scale(1.09,1)" text-anchor="middle" font-family="'Liberation Sans','Noto Sans CJK KR',sans-serif" font-weight="bold" font-size="17" fill="#1a1a1a" stroke="#1a1a1a" stroke-width="0.5">강원</text>
<text transform="translate(507.7,178.2) scale(0.72,1)" text-anchor="middle" font-family="'Liberation Sans',sans-serif" font-weight="bold" font-size="21.6" letter-spacing="1.9" fill="#1a1a1a" stroke="#1a1a1a" stroke-width="0.7">0.00%</text>
<text transform="translate(470.5,246.9) scale(1.09,1)" text-anchor="middle" font-family="'Liberation Sans','Noto Sans CJK KR',sans-serif" font-weight="bold" font-size="17" fill="#1a1a1a" stroke="#1a1a1a" stroke-width="0.5">충북</text>
<text transform="translate(471.2,270.2) scale(0.72,1)" text-anchor="middle" font-family="'Liberation Sans',sans-serif" font-weight="bold" font-size="21.6" letter-spacing="1.9" fill="#1a1a1a" stroke="#1a1a1a" stroke-width="0.7">0.04%</text>
<text transform="translate(408.3,277.9) scale(1.09,1)" text-anchor="middle" font-family="'Liberation Sans','Noto Sans CJK KR',sans-serif" font-weight="bold" font-size="17" fill="#1a1a1a" stroke="#1a1a1a" stroke-width="0.5">세종</text>
<text transform="translate(409.0,302.0) scale(0.72,1)" text-anchor="middle" font-family="'Liberation Sans',sans-serif" font-weight="bold" font-size="21.6" letter-spacing="1.9" fill="#1a1a1a" stroke="#1a1a1a" stroke-width="0.7">0.38%</text>
<text transform="translate(373.0,322.9) scale(1.09,1)" text-anchor="middle" font-family="'Liberation Sans','Noto Sans CJK KR',sans-serif" font-weight="bold" font-size="17" fill="#1a1a1a" stroke="#1a1a1a" stroke-width="0.5">충남</text>
<text transform="translate(373.7,345.7) scale(0.72,1)" text-anchor="middle" font-family="'Liberation Sans',sans-serif" font-weight="bold" font-size="21.6" letter-spacing="1.9" fill="#1a1a1a" stroke="#1a1a1a" stroke-width="0.7">0.00%</text>
<text transform="translate(433.7,331.9) scale(1.09,1)" text-anchor="middle" font-family="'Liberation Sans','Noto Sans CJK KR',sans-serif" font-weight="bold" font-size="17" fill="#1a1a1a" stroke="#1a1a1a" stroke-width="0.5">대전</text>
<text transform="translate(434.4,356.2) scale(0.75,1)" text-anchor="middle" font-family="'Liberation Sans',sans-serif" font-weight="bold" font-size="21.6" letter-spacing="1.9" fill="#1a1a1a" stroke="#1a1a1a" stroke-width="0.7">-0.03%</text>
<text transform="translate(556.3,301.9) scale(1.09,1)" text-anchor="middle" font-family="'Liberation Sans','Noto Sans CJK KR',sans-serif" font-weight="bold" font-size="17" fill="#1a1a1a" stroke="#1a1a1a" stroke-width="0.5">경북</text>
<text transform="translate(557.0,325.7) scale(0.75,1)" text-anchor="middle" font-family="'Liberation Sans',sans-serif" font-weight="bold" font-size="21.6" letter-spacing="1.9" fill="#1a1a1a" stroke="#1a1a1a" stroke-width="0.7">-0.01%</text>
<text transform="translate(530.0,377.9) scale(1.09,1)" text-anchor="middle" font-family="'Liberation Sans','Noto Sans CJK KR',sans-serif" font-weight="bold" font-size="17" fill="#1a1a1a" stroke="#1a1a1a" stroke-width="0.5">대구</text>
<text transform="translate(530.7,401.2) scale(0.72,1)" text-anchor="middle" font-family="'Liberation Sans',sans-serif" font-weight="bold" font-size="21.6" letter-spacing="1.9" fill="#1a1a1a" stroke="#1a1a1a" stroke-width="0.7">0.04%</text>
<text transform="translate(623.8,399.9) scale(1.09,1)" text-anchor="middle" font-family="'Liberation Sans','Noto Sans CJK KR',sans-serif" font-weight="bold" font-size="17" fill="#1a1a1a" stroke="#1a1a1a" stroke-width="0.5">울산</text>
<text transform="translate(624.5,423.2) scale(0.72,1)" text-anchor="middle" font-family="'Liberation Sans',sans-serif" font-weight="bold" font-size="21.6" letter-spacing="1.9" fill="#1a1a1a" stroke="#1a1a1a" stroke-width="0.7">0.14%</text>
<text transform="translate(599.6,452.4) scale(1.09,1)" text-anchor="middle" font-family="'Liberation Sans','Noto Sans CJK KR',sans-serif" font-weight="bold" font-size="17" fill="#1a1a1a" stroke="#1a1a1a" stroke-width="0.5">부산</text>
<text transform="translate(600.3,475.0) scale(0.72,1)" text-anchor="middle" font-family="'Liberation Sans',sans-serif" font-weight="bold" font-size="21.6" letter-spacing="1.9" fill="#1a1a1a" stroke="#1a1a1a" stroke-width="0.7">0.09%</text>
<text transform="translate(508.0,436.4) scale(1.09,1)" text-anchor="middle" font-family="'Liberation Sans','Noto Sans CJK KR',sans-serif" font-weight="bold" font-size="17" fill="#1a1a1a" stroke="#1a1a1a" stroke-width="0.5">경남</text>
<text transform="translate(508.7,460.2) scale(0.72,1)" text-anchor="middle" font-family="'Liberation Sans',sans-serif" font-weight="bold" font-size="21.6" letter-spacing="1.9" fill="#1a1a1a" stroke="#1a1a1a" stroke-width="0.7">0.06%</text>
<text transform="translate(382.3,390.9) scale(1.09,1)" text-anchor="middle" font-family="'Liberation Sans','Noto Sans CJK KR',sans-serif" font-weight="bold" font-size="17" fill="#1a1a1a" stroke="#1a1a1a" stroke-width="0.5">전북</text>
<text transform="translate(383.0,414.7) scale(0.72,1)" text-anchor="middle" font-family="'Liberation Sans',sans-serif" font-weight="bold" font-size="21.6" letter-spacing="1.9" fill="#1a1a1a" stroke="#1a1a1a" stroke-width="0.7">0.00%</text>
<text transform="translate(360.6,448.9) scale(1.09,1)" text-anchor="middle" font-family="'Liberation Sans','Noto Sans CJK KR',sans-serif" font-weight="bold" font-size="17" fill="#1a1a1a" stroke="#1a1a1a" stroke-width="0.5">광주</text>
<text transform="translate(361.3,473.7) scale(0.72,1)" text-anchor="middle" font-family="'Liberation Sans',sans-serif" font-weight="bold" font-size="21.6" letter-spacing="1.9" fill="#1a1a1a" stroke="#1a1a1a" stroke-width="0.7">0.03%</text>
<text transform="translate(352.0,504.9) scale(1.09,1)" text-anchor="middle" font-family="'Liberation Sans','Noto Sans CJK KR',sans-serif" font-weight="bold" font-size="17" fill="#1a1a1a" stroke="#1a1a1a" stroke-width="0.5">전남</text>
<text transform="translate(352.7,528.7) scale(0.75,1)" text-anchor="middle" font-family="'Liberation Sans',sans-serif" font-weight="bold" font-size="21.6" letter-spacing="1.9" fill="#1a1a1a" stroke="#1a1a1a" stroke-width="0.7">-0.01%</text>
<text transform="translate(333.5,608.9) scale(1.09,1)" text-anchor="middle" font-family="'Liberation Sans','Noto Sans CJK KR',sans-serif" font-weight="bold" font-size="17" fill="#1a1a1a" stroke="#1a1a1a" stroke-width="0.5">제주</text>
<text transform="translate(334.2,633.0) scale(0.75,1)" text-anchor="middle" font-family="'Liberation Sans',sans-serif" font-weight="bold" font-size="21.6" letter-spacing="1.9" fill="#1a1a1a" stroke="#1a1a1a" stroke-width="0.7">-0.05%</text>
<rect x="524.7" y="544.7" width="26.7" height="13.3" fill="#e8717a"/>
<text y="555.0" font-family="'Liberation Sans','Noto Sans CJK KR',sans-serif" font-weight="bold" fill="#333" font-size="9.7" letter-spacing="0.2"><tspan x="588" text-anchor="end">0.50%</tspan><tspan x="589" font-size="9" letter-spacing="1.4">이상</tspan></text>
<rect x="524.7" y="562.0" width="26.7" height="13.3" fill="#f5b8be"/>
<text y="572.3" font-family="'Liberation Sans','Noto Sans CJK KR',sans-serif" font-weight="bold" fill="#333" font-size="9.7" letter-spacing="0.2"><tspan x="588" text-anchor="end">0.25%</tspan><tspan x="589" font-size="9" letter-spacing="1.4">이상</tspan> <tspan x="613.8">~</tspan> <tspan x="623">0.50%</tspan><tspan x="652" font-size="9" letter-spacing="1.4">미만</tspan></text>
<rect x="524.7" y="579.2" width="26.7" height="13.3" fill="#fbdf95"/>
<text y="589.5" font-family="'Liberation Sans','Noto Sans CJK KR',sans-serif" font-weight="bold" fill="#333" font-size="9.7" letter-spacing="0.2"><tspan x="588" text-anchor="end">-0.25%</tspan><tspan x="589" font-size="9" letter-spacing="1.4">초과</tspan> <tspan x="613.2">~</tspan> <tspan x="621.8">0.25%</tspan><tspan x="650.8" font-size="9" letter-spacing="1.4">미만</tspan></text>
<rect x="524.7" y="596.4" width="26.7" height="13.3" fill="#b9c8ea"/>
<text y="606.7" font-family="'Liberation Sans','Noto Sans CJK KR',sans-serif" font-weight="bold" fill="#333" font-size="9.7" letter-spacing="0.2"><tspan x="588" text-anchor="end">-0.50%</tspan><tspan x="589" font-size="9" letter-spacing="1.4">초과</tspan> <tspan x="613.2">~</tspan> <tspan x="623">-0.25%</tspan><tspan x="656.3" font-size="9" letter-spacing="1.4">이하</tspan></text>
<rect x="524.7" y="613.4" width="26.7" height="13.3" fill="#4472c4"/>
<text y="623.7" font-family="'Liberation Sans','Noto Sans CJK KR',sans-serif" font-weight="bold" fill="#333" font-size="9.7" letter-spacing="0.2"><tspan x="588" text-anchor="end">-0.50%</tspan><tspan x="589" font-size="9" letter-spacing="1.4">이하</tspan></text>
</svg>
</body></html>
